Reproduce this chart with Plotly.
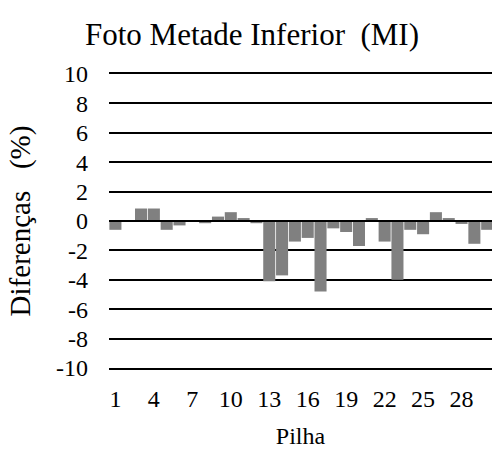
import plotly.graph_objects as go

# Pile number and percentage difference (lower half photo)
pilha = list(range(1, 31))
diferencas = [
    -0.6, 0.0, 0.85, 0.85, -0.6, -0.3, 0.0, -0.15, 0.3, 0.6,
    0.2, -0.15, -4.1, -3.7, -1.4, -1.15, -4.8, -0.5, -0.75, -1.7,
    0.2, -1.4, -4.0, -0.6, -0.9, 0.6, 0.2, -0.2, -1.55, -0.6,
]
x_ticks = [1, 4, 7, 10, 13, 16, 19, 22, 25, 28]
y_ticks = [-10, -8, -6, -4, -2, 0, 2, 4, 6, 8, 10]

FONT = "Liberation Serif"

fig = go.Figure(
    go.Bar(
        x=pilha,
        y=diferencas,
        marker=dict(color="#808080", line=dict(width=0)),
    )
)

fig.update_layout(
    width=492,
    height=451,
    margin=dict(l=109, r=0, t=73.5, b=82.5),
    paper_bgcolor="white",
    plot_bgcolor="white",
    bargap=0.06,
    showlegend=False,
    font=dict(family=FONT, color="black"),
    title=dict(
        text="Foto Metade Inferior\u00a0\u00a0(MI)",
        font=dict(family=FONT, size=31, color="black"),
        x=252 / 492,
        xanchor="center",
        xref="container",
        y=1 - 34 / 451,
        yanchor="middle",
        yref="container",
    ),
)

fig.update_xaxes(
    range=[0.5, 30.375],
    tickmode="array",
    tickvals=x_ticks,
    ticktext=[str(v) for v in x_ticks],
    tickfont=dict(family=FONT, size=24, color="black"),
    ticks="",
    ticklabelstandoff=8,
    showgrid=False,
    zeroline=False,
    # top and bottom frame lines double as the 10 / -10 gridlines
    showline=True,
    mirror=True,
    linecolor="black",
    linewidth=2,
    title=dict(text="Pilha", font=dict(family=FONT, size=24, color="black"), standoff=16),
)

fig.update_yaxes(
    range=[-10, 10],
    tickmode="array",
    tickvals=y_ticks,
    ticktext=[str(v) for v in y_ticks],
    tickfont=dict(family=FONT, size=24, color="black"),
    ticks="",
    ticklabelstandoff=20,
    showgrid=True,
    gridcolor="black",
    gridwidth=2,
    zeroline=False,
    showline=False,
    title=dict(
        text="Diferenças\u00a0\u00a0\u00a0(%)",
        font=dict(family=FONT, size=29, color="black"),
        standoff=16,
    ),
)

# Horizontal axis line at zero, drawn over the bars
fig.add_shape(
    type="line",
    xref="paper",
    yref="y",
    x0=0,
    x1=1,
    y0=0,
    y1=0,
    line=dict(color="black", width=2),
    layer="above",
)

fig.write_html("out.html")
